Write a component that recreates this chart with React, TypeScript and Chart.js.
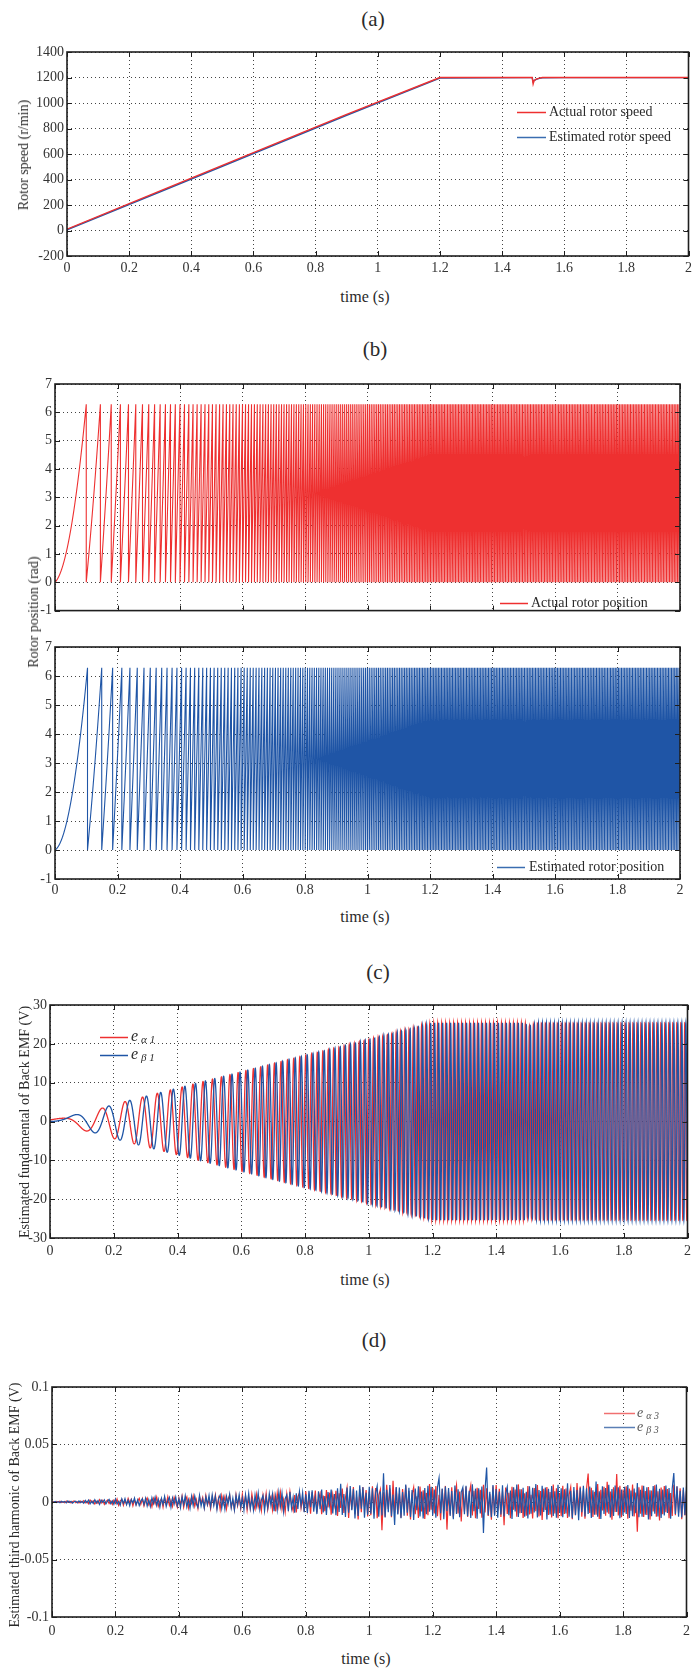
import React, { useEffect, useRef } from 'react';
import { Chart, registerables } from 'chart.js';

Chart.register(...registerables);

const FONT = "'Liberation Serif', 'Times New Roman', Times, serif";
const RED = '#ee3030';
const BLUE = '#1f55a6';
const GRID = '#444';
const TICK_TEXT = '#333';

// ---------------- tick labels ----------------
const timeTicks = [0, 0.2, 0.4, 0.6, 0.8, 1, 1.2, 1.4, 1.6, 1.8, 2];
const speedTicks = [-200, 0, 200, 400, 600, 800, 1000, 1200, 1400];
const positionTicks = [-1, 0, 1, 2, 3, 4, 5, 6, 7];
const emf1Ticks = [-30, -20, -10, 0, 10, 20, 30];
const emf3Ticks = [-0.1, -0.05, 0, 0.05, 0.1];

// ---------------- (a) rotor speed, r/min ----------------
const speedTime = [0, 0.3, 0.6, 0.9, 1.2, 1.49, 1.497, 1.5, 1.503, 1.51, 1.52, 1.53, 1.6, 2.0];
const actualSpeed = [10, 310, 610, 910, 1200, 1200, 1200, 1150, 1175, 1188, 1195, 1200, 1200, 1200];
const estimatedSpeed = [6, 304, 604, 904, 1196, 1199, 1199, 1168, 1176, 1186, 1193, 1198, 1199, 1199];

// (b) the position wraps at 2*pi; first resets read at ~0.11 s, 0.155 s, 0.19 s -> 10 pole pairs
const POSITION_POLE_PAIRS = 10;
const POSITION_SAMPLE_RATE = 4000;
// (c) oscillation periods (~0.07 s at 0.21 s) -> 4 pole pairs
const EMF_POLE_PAIRS = 4;
const EMF_SAMPLE_RATE = 4000;
// (c) amplitude envelope of the fundamental back EMF, V
const emfEnvelopeTime = [0, 0.05, 0.1, 0.15, 0.2, 0.3, 0.4, 0.5, 0.6, 0.7, 0.8, 0.9, 1.0, 1.1, 1.2, 1.49, 1.5, 1.53, 2.0];
const emfEnvelopeVolt = [0.4, 1.1, 2.2, 3.1, 4.4, 6.5, 8.6, 10.7, 12.8, 14.9, 17.0, 19.0, 21.1, 23.2, 25.3, 25.3, 24.5, 25.3, 25.3];

// (d) third-harmonic back EMF estimates, mV, one value every 5 ms
const thirdHarmonicStep = 0.005;
const eAlpha3mV = [
  0.0, 0.2, -0.3, 0.5, -0.1, 0.6, -0.5, 0.3, -0.7, 0.8, -0.2, 0.6, -0.8, 0.4, 0.9, -0.6, 0.2, -0.9, 0.7, -0.4,
  1.2, -0.8, 0.5, -1.5, 1.7, -0.3, 1.1, -1.8, 0.6, -1.2, 2.0, -0.9, 1.4, -2.1, 0.4, 1.8, -1.3, 0.8, -2.2, 1.5,
  -1.1, 2.6, -2.8, 0.9, 2.2, -3.0, 1.3, -1.9, 3.1, -0.7, 2.4, -3.3, 1.6, -2.5, 0.6, 3.2, -2.0, 2.8, -3.4, 1.0,
  3.6, -2.4, 1.2, -4.1, 3.0, -1.5, 4.2, -3.6, 0.8, 2.7, -4.4, 3.8, -1.9, 4.5, -2.9, 1.6, -3.9, 4.0, -0.6, -4.6,
  3.3, -2.2, 5.0, -4.7, 1.4, 4.4, -5.2, 2.6, -1.3, 5.3, -3.8, 2.1, -5.5, 4.6, -0.9, 3.9, -4.9, 5.6, -2.7, 1.8,
  -5.8, 4.2, -2.0, 6.1, -5.0, 3.1, -6.4, 5.5, -1.6, 4.8, -6.0, 2.4, 5.9, -4.5, 1.2, -6.6, 6.3, -3.4, 4.0, -5.7,
  6.8, -2.9, 5.1, -7.2, 3.6, -5.4, 7.0, -1.8, -6.3, 6.5, -4.1, 2.2, -7.5, 5.8, -3.2, 7.3, -6.6, 1.5, 4.7, -7.0,
  5.2, -8.1, 7.4, -3.6, 8.3, -6.2, 2.1, -8.7, 6.9, -4.8, 8.8, -2.5, -7.6, 6.0, -9.0, 4.4, 7.8, -5.3, 3.0, -8.4,
  9.4, -6.8, 4.1, -10.2, 8.6, -3.3, 9.9, -9.1, 2.4, 7.2, -10.6, 5.6, -7.9, 10.4, -4.7, 8.1, -11.0, 6.4, -2.8, 9.7,
  -12.1, 7.5, -5.2, 11.8, -9.6, 3.9, 12.4, -13.8, 8.2, -6.5, 13.1, -10.7, 4.6, -15.2, 11.0, -8.8, 12.9, -4.1, 10.3, -12.6,
  9.1, -11.5, 13.6, -7.2, 12.2, -14.0, 5.8, 10.9, -24.6, 8.4, -12.8, 14.9, -6.1, 11.7, -13.3, 18.5, -9.4, 12.5, -10.2, 7.3,
  -13.7, 11.2, -5.5, 14.3, -12.0, 9.6, -15.1, 6.7, 12.8, -10.6, 4.9, -13.9, 13.4, -8.3, 10.1, -14.7, 7.9, -11.4, 15.6, -6.8,
  12.1, -9.9, 13.8, -12.4, 6.2, -15.8, 11.3, -7.7, 14.0, -24.0, 8.9, -11.1, 12.7, -13.5, 5.4, 14.6, -10.0, 9.2, -16.9, 11.6,
  -8.5, 13.2, -12.9, 7.1, 14.5, -11.7, 9.8, -14.2, 12.3, -6.0, 10.7, -13.6, 15.0, -9.2, 11.9, -12.2, 6.9, -15.4, 13.7, -10.8,
  14.8, -7.4, 11.5, -13.0, 9.0, -20.3, 12.6, -10.4, 8.1, -14.1, 13.3, -6.6, 10.8, -12.7, 15.3, -9.7, 11.1, -13.8, 7.6, -11.9,
  13.9, -10.9, 6.3, -14.4, 12.2, -8.0, 14.7, -12.5, 9.5, -15.6, 11.4, -6.9, 13.0, -11.2, 8.7, -13.4, 15.2, -9.9, 12.0, -14.0,
  7.8, -12.3, 14.1, -10.5, 11.8, -13.9, 6.4, 12.9, -15.0, 9.3, -11.6, 16.4, -8.1, 13.5, -12.8, 10.2, -14.6, 11.7, 24.8, -9.6,
  12.4, -13.1, 8.8, -11.0, 15.7, -14.8, 10.6, -7.3, 13.3, -12.0, 17.6, -10.3, 9.1, -15.5, 12.8, -8.6, 24.4, -11.8, 14.2, -13.2,
  10.9, -9.0, 13.7, -14.5, 11.6, -7.5, 15.1, -12.6, 8.3, -25.8, 12.7, -10.1, 14.4, -13.0, 9.6, -11.3, 13.1, -15.3, 10.0, -8.2,
  14.6, -12.9, 9.4, -16.0, 12.5, -10.7, 13.9, -8.9, 11.2, -14.2, 7.7, -12.1, 15.0, -11.5, 13.4, -9.3, 12.0, -14.9, 10.5, -11.7,
  9.8,
];
const eBeta3mV = [
  0.0, -0.2, 0.4, -0.5, 0.2, -0.6, 0.7, -0.3, 0.5, -0.8, 0.9, -0.4, 0.6, -1.0, 0.3, 0.8, -0.7, 1.0, -0.5, 0.6,
  -1.1, 1.4, -0.6, 1.7, -1.6, 0.8, -1.3, 2.0, -0.9, 1.2, -2.1, 1.6, -0.4, 1.9, -1.7, 0.7, 2.2, -1.4, 1.0, -2.0,
  2.5, -1.8, 0.6, -2.9, 2.7, -1.2, 3.0, -2.4, 1.5, -3.2, 2.1, -0.8, 3.4, -2.6, 1.9, -3.1, 0.9, 2.9, -2.2, 3.3,
  -3.5, 2.0, -4.0, 3.7, -1.4, 4.3, -3.0, 2.5, -4.5, 3.2, -2.1, 4.8, -3.9, 1.1, 4.1, -4.6, 3.5, -1.8, 4.4, -3.3,
  2.8, -5.0, 4.6, -2.3, 5.4, -4.2, 1.9, -5.6, 4.9, -3.1, 5.2, -1.5, -4.8, 5.7, -3.6, 2.4, -5.3, 4.5, -2.0, 5.8,
  -4.4, 6.2, -3.0, 5.1, -6.5, 2.7, 6.0, -5.5, 3.8, -6.2, 4.9, -1.9, 6.6, -5.0, 3.3, -6.8, 5.6, -2.5, 6.3, -4.7,
  3.5, -7.1, 6.4, -4.0, 7.4, -5.9, 2.6, -7.0, 6.1, -3.4, 7.6, -6.5, 1.8, 5.7, -7.8, 4.3, -5.1, 7.2, -2.9, 6.8,
  -8.0, 5.0, -6.7, 8.4, -3.8, 7.7, -8.6, 2.9, 6.2, -7.9, 8.9, -5.4, 4.1, -9.2, 7.5, -6.0, 9.0, -3.2, 8.1, -8.8,
  6.6, -9.6, 9.8, -4.5, 10.1, -8.4, 3.7, -10.5, 9.3, -6.3, 10.8, -9.0, 5.1, -11.2, 8.7, -2.9, 10.9, -10.0, 7.0, -11.5,
  12.0, -8.6, 15.9, -11.3, 6.9, -13.0, 12.6, -9.4, 13.8, -7.1, 11.5, -14.3, 9.9, -12.2, 14.6, -5.8, 12.9, -13.6, 8.0, -11.0,
  13.2, -10.1, 12.0, -14.5, 7.6, 13.9, -12.7, 9.2, -11.6, 25.0, -13.4, 10.6, -8.8, 14.8, -12.3, 6.5, -19.9, 13.0, -10.9, 12.6,
  -14.0, 8.7, -11.9, 15.2, -9.3, 12.4, -13.1, 10.3, -15.6, 11.8, -7.2, 13.6, -12.5, 9.0, -14.4, 12.1, -10.6, 14.0, -8.4, 13.3,
  -11.8, 10.9, -13.7, 12.8, 21.0, -9.8, 11.7, -14.9, 13.4, -7.9, 12.2, -12.1, 9.5, -15.0, 14.3, -10.4, 11.1, -13.2, 8.6, 12.7,
  -10.7, 14.1, -12.4, 9.7, -13.9, 15.4, -8.1, 11.6, -14.6, 12.0, -9.9, 13.5, -27.0, 10.8, 30.0, -11.4, 8.8, -13.3, 14.7, -12.0,
  11.3, -13.6, 9.1, -10.9, 14.5, -12.6, 7.4, 13.1, -11.5, 10.0, -14.8, 12.9, -8.3, 15.1, -13.1, 11.0, -9.6, 12.4, -12.9, 8.9,
  -14.3, 13.6, -10.2, 12.3, -9.0, 15.6, -13.5, 10.4, -11.7, 14.2, -8.7, 12.6, -15.2, 11.5, -10.8, 13.8, -12.1, 9.3, -13.7, 14.9,
  -9.5, 12.0, -13.3, 11.1, -10.0, 16.2, -12.9, 9.8, -14.1, 13.0, -11.3, 10.5, -15.8, 12.4, -8.9, 14.0, -12.6, 11.9, -10.4, 13.5,
  -13.9, 10.2, -11.1, 17.8, -12.8, 9.4, -14.7, 13.6, -10.5, 12.1, -9.2, 15.0, -13.4, 11.3, -12.2, 14.4, -8.6, 12.7, -14.0, 10.9,
  -11.6, 13.3, -10.3, 14.8, -13.8, 9.9, -12.4, 11.7, -9.7, 16.5, -13.2, 10.6, -12.9, 14.1, -11.0, 12.9, -15.1, 10.1, -12.3, 13.8,
  -10.1, 15.2, -12.6, 11.4, -13.9, 10.8, -11.7, 14.3, -9.6, 12.2, -14.6, 11.9, 25.2, -10.4, 13.6, -12.8, 9.7, -13.5, 12.5, -11.2,
  13.4,
];

// ---------------- derivation helpers ----------------
type Pt = { x: number; y: number };

function lookup(xs: number[], ys: number[], x: number): number {
  if (x <= xs[0]) return ys[0];
  for (let i = 1; i < xs.length; i++) {
    if (x <= xs[i]) {
      const f = (x - xs[i - 1]) / (xs[i] - xs[i - 1]);
      return ys[i - 1] + f * (ys[i] - ys[i - 1]);
    }
  }
  return ys[ys.length - 1];
}

function sampleTimes(fs: number): number[] {
  const n = Math.round(2 * fs);
  const out: number[] = [];
  for (let i = 0; i <= n; i++) out.push(i / fs);
  return out;
}

// electrical angle = pole pairs * integral of the speed profile
function electricalAngle(times: number[], rpm: number[], polePairs: number, fs: number): number[] {
  const ts = sampleTimes(fs);
  const out: number[] = [0];
  let th = 0;
  let prevW = lookup(times, rpm, 0);
  for (let i = 1; i < ts.length; i++) {
    const w = lookup(times, rpm, ts[i]);
    th += polePairs * ((prevW + w) / 2) * (2 * Math.PI / 60) * (ts[i] - ts[i - 1]);
    prevW = w;
    out.push(th);
  }
  return out;
}

// position wraps to 0 every time the angle passes 2*pi
function positionSeries(rpm: number[]): Pt[] {
  const ts = sampleTimes(POSITION_SAMPLE_RATE);
  const th = electricalAngle(speedTime, rpm, POSITION_POLE_PAIRS, POSITION_SAMPLE_RATE);
  const TWO_PI = 2 * Math.PI;
  const out: Pt[] = [{ x: 0, y: 0 }];
  for (let i = 1; i < ts.length; i++) {
    const k0 = Math.floor(th[i - 1] / TWO_PI);
    const k1 = Math.floor(th[i] / TWO_PI);
    if (k1 > k0) {
      const f = (k1 * TWO_PI - th[i - 1]) / (th[i] - th[i - 1]);
      const tw = ts[i - 1] + f * (ts[i] - ts[i - 1]);
      out.push({ x: tw, y: TWO_PI });
      out.push({ x: tw, y: 0 });
    }
    out.push({ x: ts[i], y: th[i] - k1 * TWO_PI });
  }
  return out;
}

function emfSeries(component: string): Pt[] {
  const ts = sampleTimes(EMF_SAMPLE_RATE);
  const th = electricalAngle(speedTime, actualSpeed, EMF_POLE_PAIRS, EMF_SAMPLE_RATE);
  return ts.map((t, i) => {
    const a = lookup(emfEnvelopeTime, emfEnvelopeVolt, t);
    return { x: t, y: component === 'alpha' ? a * Math.cos(th[i]) : a * Math.sin(th[i]) };
  });
}

function profileSeries(rpm: number[]): Pt[] {
  return speedTime.map((t, i) => ({ x: t, y: rpm[i] }));
}

function mVSeries(vals: number[]): Pt[] {
  return vals.map((v, i) => ({ x: +(i * thirdHarmonicStep).toFixed(3), y: v / 1000 }));
}

// ---------------- plugins ----------------
const framePlugin = {
  id: 'matlabFrame',
  afterDatasetsDraw(chart: any) {
    const { ctx, chartArea: a, scales } = chart;
    ctx.save();
    ctx.strokeStyle = '#1e1e1e';
    ctx.lineWidth = 1;
    const len = 5;
    ctx.beginPath();
    for (const t of scales.x.ticks) {
      const px = Math.round(scales.x.getPixelForValue(t.value)) + 0.5;
      ctx.moveTo(px, a.bottom);
      ctx.lineTo(px, a.bottom - len);
      ctx.moveTo(px, a.top);
      ctx.lineTo(px, a.top + len);
    }
    for (const t of scales.y.ticks) {
      const py = Math.round(scales.y.getPixelForValue(t.value)) + 0.5;
      ctx.moveTo(a.left, py);
      ctx.lineTo(a.left + len, py);
      ctx.moveTo(a.right, py);
      ctx.lineTo(a.right - len, py);
    }
    ctx.stroke();
    ctx.lineWidth = 1.6;
    ctx.strokeRect(a.left, a.top, a.right - a.left, a.bottom - a.top);
    ctx.restore();
  },
};

type LegendItem = {
  color: string;
  x0: number;
  x1: number;
  y: number;
  tx: number;
  text: string;
  size: number;
  sub?: string;
  subSize?: number;
  italic?: boolean;
  textColor?: string;
};

function makeLegendPlugin(items: LegendItem[], offsetY: number) {
  return {
    id: 'inlineLegend',
    afterDraw(chart: any) {
      const ctx = chart.ctx;
      for (const it of items) {
        const y = it.y - offsetY;
        ctx.save();
        ctx.strokeStyle = it.color;
        ctx.lineWidth = 1.5;
        ctx.beginPath();
        ctx.moveTo(it.x0, y + 0.5);
        ctx.lineTo(it.x1, y + 0.5);
        ctx.stroke();
        ctx.fillStyle = it.textColor || '#2a2a2a';
        ctx.textBaseline = 'middle';
        ctx.textAlign = 'left';
        ctx.font = `${it.italic ? 'italic ' : ''}${it.size}px ${FONT}`;
        ctx.fillText(it.text, it.tx, y);
        if (it.sub) {
          const w = ctx.measureText(it.text).width;
          ctx.font = `italic ${it.subSize}px ${FONT}`;
          ctx.fillText(it.sub, it.tx + w + 3, y + 3);
        }
        ctx.restore();
      }
    },
  };
}

// ---------------- panel specs ----------------
type DS = { data: Pt[]; color: string; width: number; exact?: boolean };
type Spec = {
  key: string;
  L: number; T: number; R: number; B: number;
  canvasTop: number; canvasHeight: number;
  xAxisH: number; showX: boolean; xPad: number;
  yMin: number; yMax: number; yTicks: number[];
  datasets: DS[];
  legend: LegendItem[];
};

const Y_AXIS_W = 46;

function spec(s: any): Spec {
  const canvasTop = s.T - 12;
  return { ...s, canvasTop, canvasHeight: s.B - canvasTop + s.xAxisH };
}

const specs: Spec[] = [
  spec({
    key: 'a', L: 67, T: 52, R: 689, B: 256, xAxisH: 26, showX: true, xPad: 4,
    yMin: -200, yMax: 1400, yTicks: speedTicks,
    datasets: [
      { data: profileSeries(actualSpeed), color: RED, width: 1.4 },
      { data: profileSeries(estimatedSpeed), color: BLUE, width: 1.4 },
    ],
    legend: [
      { color: RED, x0: 517, x1: 546, y: 112, tx: 549, text: 'Actual rotor speed', size: 14 },
      { color: '#3a6db0', x0: 517, x1: 546, y: 137, tx: 549, text: 'Estimated rotor speed', size: 14 },
    ],
  }),
  spec({
    key: 'b1', L: 55, T: 384, R: 680, B: 616, xAxisH: 6, showX: false, xPad: 3,
    yMin: -1, yMax: 7, yTicks: positionTicks,
    datasets: [{ data: positionSeries(actualSpeed), color: RED, width: 1.1, exact: true }],
    legend: [{ color: RED, x0: 500, x1: 528, y: 603, tx: 531, text: 'Actual rotor position', size: 14 }],
  }),
  spec({
    key: 'b2', L: 55, T: 647, R: 680, B: 879, xAxisH: 26, showX: true, xPad: 3,
    yMin: -1, yMax: 7, yTicks: positionTicks,
    datasets: [{ data: positionSeries(estimatedSpeed), color: BLUE, width: 1.1, exact: true }],
    legend: [{ color: '#3a6db0', x0: 497, x1: 525, y: 867, tx: 529, text: 'Estimated rotor position', size: 14 }],
  }),
  spec({
    key: 'c', L: 50, T: 1005, R: 690, B: 1238, xAxisH: 26, showX: true, xPad: 5,
    yMin: -30, yMax: 30, yTicks: emf1Ticks,
    datasets: [
      { data: emfSeries('beta'), color: BLUE, width: 1.3, exact: true },
      { data: emfSeries('alpha'), color: RED, width: 1.3, exact: true },
    ],
    legend: [
      { color: RED, x0: 100, x1: 128, y: 1037, tx: 131, text: 'e', size: 16, italic: true, sub: 'α 1', subSize: 11 },
      { color: BLUE, x0: 100, x1: 128, y: 1055, tx: 131, text: 'e', size: 16, italic: true, sub: 'β 1', subSize: 11 },
    ],
  }),
  spec({
    key: 'd', L: 52, T: 1387, R: 692, B: 1617, xAxisH: 26, showX: true, xPad: 6,
    yMin: -0.1, yMax: 0.1, yTicks: emf3Ticks,
    datasets: [
      { data: mVSeries(eBeta3mV), color: BLUE, width: 1.2 },
      { data: mVSeries(eAlpha3mV), color: RED, width: 1.2 },
    ],
    legend: [
      { color: '#f07070', x0: 604, x1: 635, y: 1413, tx: 637, text: 'e', size: 14, italic: true, sub: 'α 3', subSize: 10, textColor: '#555' },
      { color: '#5a7fb5', x0: 604, x1: 635, y: 1427, tx: 637, text: 'e', size: 14, italic: true, sub: 'β 3', subSize: 10, textColor: '#555' },
    ],
  }),
];

function buildConfig(s: Spec): any {
  return {
    type: 'line',
    data: {
      datasets: s.datasets.map((d) => ({
        data: d.data,
        borderColor: d.color,
        borderWidth: d.width,
        // a (solid) dash pattern makes Chart.js draw every segment instead of the per-pixel fast path
        borderDash: d.exact ? [100000, 0] : [],
        pointRadius: 0,
        pointHoverRadius: 0,
        tension: 0,
        fill: false,
      })),
    },
    options: {
      responsive: false,
      animation: false,
      devicePixelRatio: 1,
      parsing: false,
      normalized: true,
      events: [],
      layout: { padding: { left: s.L - Y_AXIS_W, right: 696 - s.R, top: s.T - s.canvasTop, bottom: 0 } },
      plugins: { legend: { display: false }, tooltip: { enabled: false }, title: { display: false } },
      scales: {
        x: {
          type: 'linear',
          min: 0,
          max: 2,
          afterBuildTicks: (sc: any) => { sc.ticks = timeTicks.map((v) => ({ value: v })); },
          afterFit: (sc: any) => { sc.height = s.xAxisH; },
          grid: { color: GRID, lineWidth: 1, drawTicks: false },
          border: { display: false, dash: [1, 3] },
          ticks: {
            display: s.showX,
            padding: s.xPad,
            color: TICK_TEXT,
            font: { family: FONT, size: 14 },
            maxRotation: 0,
            autoSkip: false,
            callback: (v: number) => String(v),
          },
        },
        y: {
          type: 'linear',
          min: s.yMin,
          max: s.yMax,
          afterBuildTicks: (sc: any) => { sc.ticks = s.yTicks.map((v) => ({ value: v })); },
          afterFit: (sc: any) => { sc.width = Y_AXIS_W; },
          grid: { color: GRID, lineWidth: 1, drawTicks: false },
          border: { display: false, dash: [1, 3] },
          ticks: {
            padding: 3,
            color: TICK_TEXT,
            font: { family: FONT, size: 14 },
            autoSkip: false,
            callback: (v: number) => String(v),
          },
        },
      },
    },
    plugins: [framePlugin, makeLegendPlugin(s.legend, s.canvasTop)],
  };
}

function ChartPanel({ s }: { s: Spec }) {
  const ref = useRef<HTMLCanvasElement>(null);
  useEffect(() => {
    const chart = new Chart(ref.current as HTMLCanvasElement, buildConfig(s));
    return () => chart.destroy();
  }, [s]);
  return (
    <canvas
      ref={ref}
      width={696}
      height={s.canvasHeight}
      style={{ position: 'absolute', left: 0, top: s.canvasTop, width: 696, height: s.canvasHeight }}
    />
  );
}

type TextLabel = { text: string; x: number; y: number; size: number; rotate?: boolean };

const textLabels: TextLabel[] = [
  { text: '(a)', x: 373, y: 19, size: 21 },
  { text: '(b)', x: 375, y: 349, size: 21 },
  { text: '(c)', x: 378, y: 972, size: 21 },
  { text: '(d)', x: 374, y: 1340, size: 21 },
  { text: 'time (s)', x: 365, y: 297, size: 16 },
  { text: 'time (s)', x: 365, y: 917, size: 16 },
  { text: 'time (s)', x: 365, y: 1280, size: 16 },
  { text: 'time (s)', x: 366, y: 1659, size: 16 },
  { text: 'Rotor speed (r/min)', x: 24, y: 155, size: 14, rotate: true },
  { text: 'Rotor position (rad)', x: 34, y: 612, size: 14, rotate: true },
  { text: 'Estimated fundamental of Back EMF (V)', x: 25, y: 1122, size: 14, rotate: true },
  { text: 'Estimated third harmonic of Back EMF (V)', x: 15, y: 1505, size: 14, rotate: true },
];

function Label({ l }: { l: TextLabel }) {
  const transform = l.rotate ? 'translate(-50%, -50%) rotate(-90deg)' : 'translate(-50%, -50%)';
  return (
    <div
      style={{
        position: 'absolute',
        left: l.x,
        top: l.y,
        fontSize: l.size,
        lineHeight: 1,
        whiteSpace: 'nowrap',
        transform,
      }}
    >
      {l.text}
    </div>
  );
}

export default function App() {
  return (
    <div
      style={{
        position: 'absolute',
        left: 0,
        top: 0,
        width: 696,
        height: 1671,
        background: '#fff',
        fontFamily: FONT,
        color: '#2a2a2a',
        overflow: 'hidden',
      }}
    >
      {specs.map((s) => (
        <ChartPanel key={s.key} s={s} />
      ))}
      {textLabels.map((l, i) => (
        <Label key={i} l={l} />
      ))}
    </div>
  );
}
